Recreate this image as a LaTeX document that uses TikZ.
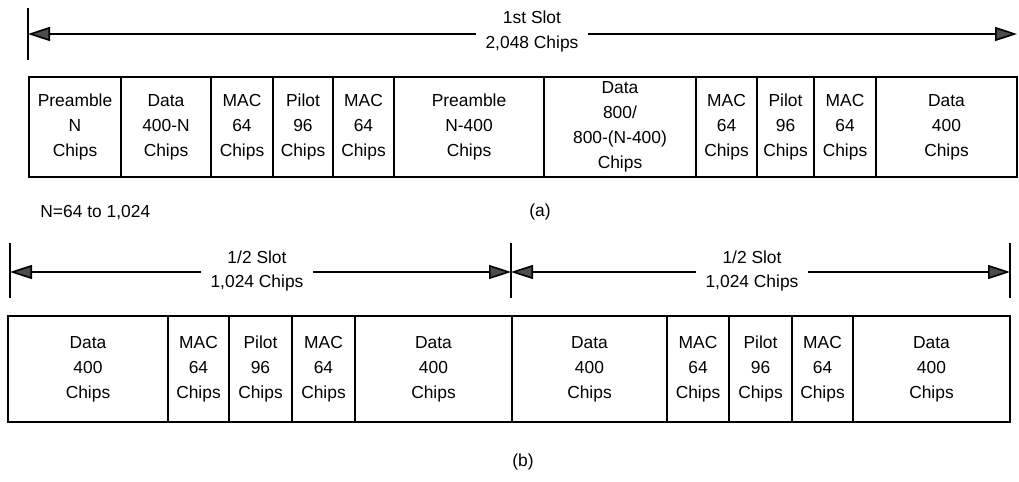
\documentclass[tikz,border=0pt]{standalone}
\usepackage{fontspec}
\setmainfont{Liberation Sans}
\usetikzlibrary{arrows.meta,positioning}
\tikzset{
  cell/.style={draw,line width=0.9pt,outer sep=0pt,inner sep=1pt,align=center,
    minimum height=50pt,font=\fontsize{8.7}{12.5}\selectfont},
  dim/.style={-{Triangle[length=11pt,width=7pt,fill=black!70]},line width=0.8pt},
  tickline/.style={line width=0.9pt},
  lbl/.style={font=\fontsize{8.7}{12.5}\selectfont,align=center,inner sep=4.5pt},
  figcap/.style={font=\fontsize{8.7}{12.5}\selectfont,inner sep=0pt},
}

\begin{document}
\begin{tikzpicture}[x=0.5pt,y=-0.5pt]
  \useasboundingbox (0,0) rectangle (1019,482);
  % (a) one full slot
  \coordinate (aL) at (28,34);
  \coordinate (aR) at (1017,34);
  \draw[tickline] (28,8) -- (28,60);
  \node[lbl] (slotA) at (532,32) {1st Slot\\2,048 Chips};
  \draw[dim] (slotA.west |- aL) -- (aL);
  \draw[dim] (slotA.east |- aR) -- (aR);

  \node[cell,minimum width=46pt,anchor=north west] (a1) at (29,77) {Preamble\\N\\Chips};
  \node[cell,minimum width=45pt,right=0pt of a1] (a2) {Data\\400-N\\Chips};
  \node[cell,minimum width=31pt,right=0pt of a2] (a3) {MAC\\64\\Chips};
  \node[cell,minimum width=30pt,right=0pt of a3] (a4) {Pilot\\96\\Chips};
  \node[cell,minimum width=30.5pt,right=0pt of a4] (a5) {MAC\\64\\Chips};
  \node[cell,minimum width=75pt,right=0pt of a5] (a6) {Preamble\\N-400\\Chips};
  \node[cell,minimum width=76pt,right=0pt of a6] (a7) {Data\\800/\\800-(N-400)\\Chips};
  \node[cell,minimum width=30.5pt,right=0pt of a7] (a8) {MAC\\64\\Chips};
  \node[cell,minimum width=28.5pt,right=0pt of a8] (a9) {Pilot\\96\\Chips};
  \node[cell,minimum width=31pt,right=0pt of a9] (a10) {MAC\\64\\Chips};
  \node[cell,minimum width=70.5pt,right=0pt of a10] (a11) {Data\\400\\Chips};

  \node[figcap,anchor=west] (nrange) at (40,213) {N=64 to 1,024};
  \node[figcap] (capA) at (540,212) {(a)};

  % (b) two half slots
  \coordinate (bL) at (10,272);
  \coordinate (bM) at (511,272);
  \coordinate (bR) at (1010,272);
  \draw[tickline] (10,243) -- (10,298);
  \draw[tickline] (511,243) -- (511,298);
  \draw[tickline] (1010,243) -- (1010,298);
  \node[lbl] (halfL) at (257,271) {1/2 Slot\\1,024 Chips};
  \node[lbl] (halfR) at (752,271) {1/2 Slot\\1,024 Chips};
  \draw[dim] (halfL.west |- bL) -- (bL);
  \draw[dim] (halfL.east |- bM) -- (bM);
  \draw[dim] (halfR.west |- bM) -- (bM);
  \draw[dim] (halfR.east |- bR) -- (bR);

  \node[cell,minimum width=80pt,minimum height=53pt,anchor=north west] (b1) at (8,316) {Data\\400\\Chips};
  \node[cell,minimum width=30.5pt,minimum height=53pt,right=0pt of b1] (b2) {MAC\\64\\Chips};
  \node[cell,minimum width=31.5pt,minimum height=53pt,right=0pt of b2] (b3) {Pilot\\96\\Chips};
  \node[cell,minimum width=31.5pt,minimum height=53pt,right=0pt of b3] (b4) {MAC\\64\\Chips};
  \node[cell,minimum width=78.5pt,minimum height=53pt,right=0pt of b4] (b5) {Data\\400\\Chips};
  \node[cell,minimum width=77.5pt,minimum height=53pt,right=0pt of b5] (b6) {Data\\400\\Chips};
  \node[cell,minimum width=31pt,minimum height=53pt,right=0pt of b6] (b7) {MAC\\64\\Chips};
  \node[cell,minimum width=31.5pt,minimum height=53pt,right=0pt of b7] (b8) {Pilot\\96\\Chips};
  \node[cell,minimum width=30.5pt,minimum height=53pt,right=0pt of b8] (b9) {MAC\\64\\Chips};
  \node[cell,minimum width=78.5pt,minimum height=53pt,right=0pt of b9] (b10) {Data\\400\\Chips};

  \node[figcap] (capB) at (523,462) {(b)};
\end{tikzpicture}
\end{document}
